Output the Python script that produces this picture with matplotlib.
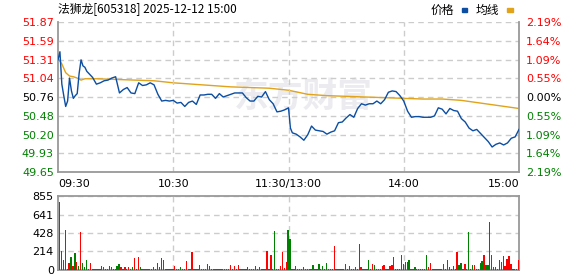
import numpy as np
import matplotlib.pyplot as plt
from matplotlib.patches import Rectangle

# dados do grafico
title = '法狮龙[605318] 2025-12-12 15:00'
price_ticks = [49.65, 49.93, 50.20, 50.48, 50.76, 51.04, 51.31, 51.59, 51.87]
pct_labels = ['2.19%', '1.64%', '1.09%', '0.55%', '0.00%', '0.55%', '1.09%', '1.64%', '2.19%']
time_pos = [0, 60, 120, 180, 240]
time_labels = ['09:30', '10:30', '11:30/13:00', '14:00', '15:00']
vol_ticks = [0, 214, 428, 641, 855]

# preco (minutos desde 09:30)
price_t = list(range(0, 17)) + list(range(18, 121, 2)) + [121] + list(range(122, 241, 2))
price = [51.31, 51.43, 50.95, 50.78, 50.62, 50.70, 51.04, 50.85, 50.74, 50.78,
         50.81, 51.11, 51.31, 51.22, 51.20, 51.14, 51.11,
         51.05, 50.95, 50.97, 51.00, 51.01, 51.04, 51.06, 50.82, 50.87, 50.90,
         50.82, 50.81, 50.97, 50.93, 50.94, 50.97, 50.94, 50.80, 50.70, 50.71,
         50.70, 50.71, 50.67, 50.68, 50.62, 50.68, 50.70, 50.65, 50.79, 50.79,
         50.80, 50.80, 50.74, 50.81, 50.76, 50.78, 50.80, 50.82, 50.82, 50.82,
         50.75, 50.70, 50.70, 50.77, 50.76, 50.84, 50.72, 50.66, 50.54, 50.55,
         50.57, 50.60,
         50.30,
         50.23, 50.21, 50.17, 50.12, 50.20, 50.33, 50.27, 50.26, 50.25, 50.21,
         50.24, 50.26, 50.38, 50.39, 50.45, 50.50, 50.46, 50.59, 50.66, 50.64,
         50.66, 50.66, 50.70, 50.66, 50.72, 50.83, 50.85, 50.84, 50.78, 50.70,
         50.55, 50.46, 50.47, 50.47, 50.46, 50.46, 50.46, 50.48, 50.60, 50.58,
         50.51, 50.59, 50.56, 50.55, 50.44, 50.39, 50.30, 50.26, 50.28, 50.22,
         50.16, 50.10, 50.02, 50.06, 50.08, 50.05, 50.08, 50.15, 50.17, 50.28]

# linha media
avg_t = [0, 2, 4, 6, 8, 10, 12, 14, 20, 30, 40, 50, 60, 70, 80, 90, 100, 110, 120,
         125, 130, 140, 150, 160, 170, 180, 190, 200, 210, 215, 220, 225, 230, 235, 240]
avg = [51.33, 51.25, 51.12, 51.07, 51.06, 51.04, 51.01, 51.03, 51.03, 51.02, 51.01,
       51.00, 50.97, 50.95, 50.93, 50.91, 50.90, 50.89, 50.86, 50.83, 50.80, 50.78,
       50.77, 50.76, 50.75, 50.74, 50.73, 50.73, 50.71, 50.69, 50.67, 50.65, 50.63,
       50.61, 50.59]

# volume por minuto, r = sobe, g = desce
volume = [785, 220, 115, 462, 10, 77, 150, 46, 196, 92, 46, 439, 81, 35, 115, 12, 81, 12, 12, 12,
          15, 15, 46, 35, 15, 15, 46, 35, 12, 15, 46, 69, 35, 12, 35, 12, 35, 12, 35, 139,
          12, 150, 35, 12, 12, 12, 12, 12, 12, 35, 12, 81, 35, 139, 115, 12, 12, 12, 12, 12,
          46, 12, 15, 35, 15, 12, 104, 15, 12, 208, 12, 12, 15, 58, 12, 12, 15, 69, 46, 12,
          12, 12, 12, 12, 12, 12, 12, 15, 12, 58, 12, 46, 12, 58, 12, 12, 12, 15, 35, 12,
          12, 12, 46, 12, 35, 15, 15, 12, 220, 15, 173, 15, 450, 15, 12, 46, 208, 25, 92, 462,
          358, 12, 12, 46, 12, 12, 12, 35, 12, 12, 12, 12, 58, 12, 12, 69, 12, 46, 12, 81,
          12, 12, 12, 277, 12, 12, 12, 12, 12, 69, 12, 46, 12, 12, 35, 12, 300, 35, 12, 12,
          12, 115, 12, 69, 58, 12, 12, 15, 46, 58, 12, 12, 46, 58, 150, 12, 12, 12, 173, 69,
          92, 92, 115, 12, 12, 35, 12, 12, 12, 12, 12, 173, 35, 81, 12, 12, 12, 12, 12, 12,
          69, 12, 115, 35, 12, 46, 12, 208, 58, 81, 15, 69, 12, 439, 15, 58, 58, 12, 12, 81,
          104, 173, 58, 58, 554, 173, 35, 35, 15, 115, 92, 162, 46, 127, 162, 69, 12, 12, 12, 115]
vol_dir = ('rggggrgrgrgrggggrggr'
           + 'rrrrgrgrggggrgrgrggr'
           + 'grggrrrrrgggrgrgggrg'
           + 'rggggrrgrrggrrggrrgr'
           + 'rrgggrrrgrgrgrggrgrg'
           + 'rrgrrggrrgrggrgrrrrg'
           + 'ggrrrrrgrrrggggggggg'
           + 'rrgrgggggrgrggrgrrgg'
           + 'ggrrgggrrrrrrrrggggr'
           + 'gggrrggrggggrrgrrggg'
           + 'ggrrggrrgggrggggrrrg'
           + 'grgggrrrrgrgrrrrgggr')

W, H = 578, 276
red, green = '#ff0000', '#008000'
grid_kw = dict(color='#cccccc', lw=1, ls=(0, (4, 3)))
cjk = ['Noto Sans CJK SC', 'DejaVu Sans']


def rect(l, t, r, b):
    return [l / W, 1 - b / H, (r - l) / W, (b - t) / H]


fig = plt.figure(figsize=(W / 100, H / 100), dpi=100)

# painel de preco
ax = fig.add_axes(rect(58, 22, 519, 172))
ax.text(128, 50.77, '东方财富', fontsize=25, fontweight='bold', color='#ececf0',
        ha='center', va='center', family=cjk, zorder=0)
ax.plot(price_t, price, color='#0b4ea2', lw=1, zorder=3)
ax.plot(avg_t, avg, color='#e0a31a', lw=1, zorder=2)
ax.set_xlim(0, 240)
ax.set_ylim(price_ticks[0], price_ticks[-1])
ax.set_yticks(price_ticks)
ax.set_yticklabels([f'{v:.2f}' for v in price_ticks])
for i, lab in enumerate(ax.get_yticklabels()):
    lab.set_color(red if i > 4 else ('black' if i == 4 else green))
ax.set_xticks(time_pos)
ax.set_xticklabels(time_labels)
labs = ax.get_xticklabels()
labs[0].set_ha('left')
labs[-1].set_ha('right')
ax.tick_params(length=0, labelsize=8, pad=3)
ax.tick_params(axis='x', pad=5)
ax.grid(axis='y', **grid_kw)
for t in time_pos[1:-1]:
    ax.axvline(t, **grid_kw)
ax.spines['top'].set_visible(False)
for s in ['left', 'right', 'bottom']:
    ax.spines[s].set_color('#999999')
    ax.spines[s].set_linewidth(1.3)

ax2 = ax.twinx()
ax2.set_ylim(price_ticks[0], price_ticks[-1])
ax2.set_yticks(price_ticks)
ax2.set_yticklabels(pct_labels)
for i, lab in enumerate(ax2.get_yticklabels()):
    lab.set_color(red if i > 4 else ('black' if i == 4 else green))
ax2.tick_params(length=0, labelsize=8, pad=5)
for s in ax2.spines.values():
    s.set_visible(False)

# painel de volume
axv = fig.add_axes(rect(58, 196, 519, 270))
vol_x = np.arange(len(volume)) + 0.8
axv.bar(vol_x, volume, width=0.7, color=[red if d == 'r' else green for d in vol_dir],
        antialiased=False, zorder=3)
axv.set_xlim(0, 240)
axv.set_ylim(0, vol_ticks[-1])
axv.set_yticks(vol_ticks)
axv.set_xticks([])
axv.tick_params(length=0, labelsize=8, pad=3)
axv.grid(axis='y', **grid_kw)
for t in time_pos[1:-1]:
    axv.axvline(t, **grid_kw)
for s in axv.spines.values():
    s.set_color('#999999')
    s.set_linewidth(1.3)

# titulo e legenda
fig.text(58 / W, 1 - 9 / H, title, fontsize=8.5, va='center', family=cjk)
fig.text(431 / W, 1 - 10 / H, '价格', fontsize=8.5, va='center', family=cjk)
fig.add_artist(Rectangle((462 / W, 1 - 11.5 / H), 5 / W, 3 / H, color='#0b4ea2',
                         transform=fig.transFigure))
fig.text(476 / W, 1 - 10 / H, '均线', fontsize=8.5, va='center', family=cjk)
fig.add_artist(Rectangle((507 / W, 1 - 11.5 / H), 6 / W, 3 / H, color='#e0a31a',
                         transform=fig.transFigure))

fig.savefig('out.png', dpi=100)
